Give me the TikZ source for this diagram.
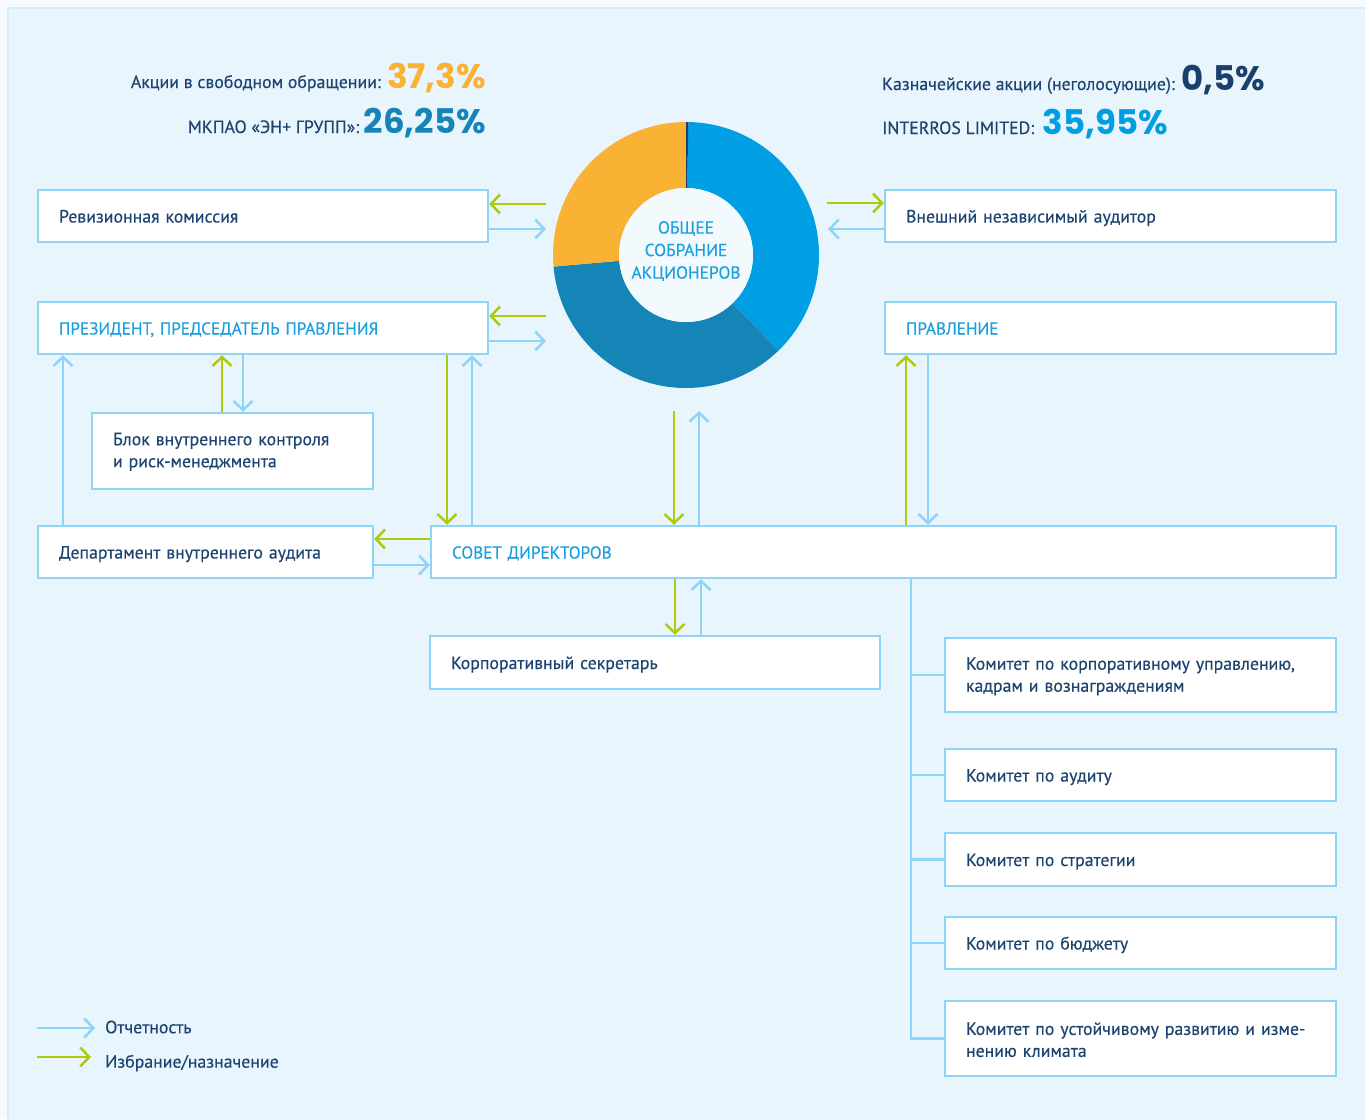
\documentclass[tikz,border=0pt]{standalone}
\usepackage{fontspec}
\setmainfont{PT Sans}
\newfontfamily\medfont{PT Sans}[FakeBold=0.3]
\newfontfamily\numfont{Poppins}
\usetikzlibrary{arrows.meta,calc}
\definecolor{bgout}{HTML}{F4FAFE}
\definecolor{panel}{HTML}{E8F5FD}
\definecolor{panelline}{HTML}{D4EDFB}
\definecolor{boxblue}{HTML}{8DD4F6}
\definecolor{selgreen}{HTML}{AFCA0B}
\definecolor{navytext}{HTML}{1D4470}
\definecolor{capblue}{HTML}{1AA0E0}
\definecolor{segorange}{HTML}{F9B234}
\definecolor{segbright}{HTML}{009FE3}
\definecolor{segmid}{HTML}{1585B8}
\definecolor{segnavy}{HTML}{1B3F6B}
\definecolor{innerc}{HTML}{F3FAFE}
\newcommand\bodyfnt{\medfont\fontsize{17.8}{22}\selectfont\hyphenpenalty=10000\exhyphenpenalty=10000}
\newcommand\capfnt{\medfont\fontsize{17.2}{22}\selectfont}
\newcommand\bignum{\numfont\bfseries\fontsize{34}{34}\selectfont}
\begin{document}
\begin{tikzpicture}[x=1pt,y=-1pt,
  box/.style={draw=boxblue, line width=2.5pt, fill=white, rectangle,
    inner xsep=21pt, inner ysep=0pt, align=left, text=navytext, font=\bodyfnt},
  oneline/.style={text height=15pt, text depth=2pt},
  capbox/.style={box, oneline, text=capblue, font=\capfnt},
  tipa/.style={-{Straight Barb[length=9pt,width=19pt]}},
  rep/.style={draw=boxblue, line width=2.5pt, tipa},
  sel/.style={draw=selgreen, line width=2.5pt, tipa},
  tree/.style={draw=boxblue, line width=2.5pt},
  head/.style={inner sep=0pt, text=navytext, font=\bodyfnt},
  legtext/.style={inner ysep=0pt, text=navytext, font=\bodyfnt, anchor=west}]
\useasboundingbox (0,0) rectangle (1365,1119);
\fill[bgout] (0,0) rectangle (1365,1119);
\draw[panelline, fill=panel, line width=2pt] (8,8) rectangle (1375,1130);

% header figures
\node[head, anchor=base east] (free) at (486,88)
  {Акции в свободном обращении: {\bignum\color{segorange}37,3\%}};
\node[head, anchor=base east] (enplus) at (486,133)
  {МКПАО «ЭН+ ГРУПП»: {\bignum\color{segmid}26,25\%}};
\node[head, anchor=base west] (treas) at (882,90)
  {Казначейские акции (неголосующие): {\bignum\color{segnavy}0,5\%}};
\node[head, anchor=base west] (interros) at (882,134)
  {INTERROS LIMITED:\hspace{4pt} {\bignum\color{segbright}35,95\%}};

% donut
\coordinate (gmc) at (686,255);
\begin{scope}[shift={(gmc)}, x=1pt, y=1pt]
  \fill[segbright] (89:133) arc[start angle=89, end angle=-46, radius=133] -- (-46:67) arc[start angle=-46, end angle=89, radius=67] -- cycle;
  \fill[segmid] (-46:133) arc[start angle=-46, end angle=-175, radius=133] -- (-175:67) arc[start angle=-175, end angle=-46, radius=67] -- cycle;
  \fill[segorange] (185:133) arc[start angle=185, end angle=90, radius=133] -- (90:67) arc[start angle=90, end angle=185, radius=67] -- cycle;
  \fill[segnavy] (90:133) arc[start angle=90, end angle=89, radius=133] -- (89:67) arc[start angle=89, end angle=90, radius=67] -- cycle;
\end{scope}
\node[circle, fill=innerc, minimum size=134pt, inner sep=0pt] (gm) at (gmc) {};
\node[align=center, text=capblue, font=\medfont\fontsize{17.4}{22.5}\selectfont] (gmlabel) at (686,251)
  {ОБЩЕЕ\\СОБРАНИЕ\\АКЦИОНЕРОВ};

% boxes
\node[box, oneline, minimum width=450pt, minimum height=52pt, text width=408pt] (rev) at (263,216) {Ревизионная комиссия};
\node[box, oneline, minimum width=451pt, minimum height=52pt, text width=409pt] (ext) at (1110.5,216) {Внешний независимый аудитор};
\node[capbox, minimum width=450pt, minimum height=52pt, text width=408pt] (pres) at (263,328) {ПРЕЗИДЕНТ, ПРЕДСЕДАТЕЛЬ ПРАВЛЕНИЯ};
\node[capbox, minimum width=451pt, minimum height=52pt, text width=409pt] (prav) at (1110.5,328) {ПРАВЛЕНИЕ};
\node[box, minimum width=281pt, minimum height=76pt, text width=239pt] (blok) at (232.5,451) {\rule{0pt}{14pt}Блок внутреннего контроля\\и риск-менеджмента};
\node[box, oneline, minimum width=335pt, minimum height=52pt, text width=293pt] (dep) at (205.5,552) {Департамент внутреннего аудита};
\node[capbox, minimum width=905pt, minimum height=52pt, text width=863pt] (sovet) at (883.5,552) {СОВЕТ ДИРЕКТОРОВ};
\node[box, oneline, minimum width=450pt, minimum height=53pt, text width=408pt] (sekr) at (655,662.5) {Корпоративный секретарь};
\node[box, minimum width=391pt, minimum height=74pt, text width=349pt] (k1) at (1140.5,675) {\rule{0pt}{15pt}Комитет по корпоративному управлению,\\кадрам и вознаграждениям};
\node[box, oneline, minimum width=391pt, minimum height=52pt, text width=349pt] (k2) at (1140.5,775) {Комитет по аудиту};
\node[box, oneline, minimum width=391pt, minimum height=53pt, text width=349pt] (k3) at (1140.5,859.5) {Комитет по стратегии};
\node[box, oneline, minimum width=391pt, minimum height=52pt, text width=349pt] (k4) at (1140.5,943) {Комитет по бюджету};
\node[box, minimum width=391pt, minimum height=75pt, text width=349pt] (k5) at (1140.5,1038.5) {\rule{0pt}{15pt}Комитет по устойчивому развитию и изме-\\нению климата};

% free ends near the donut
\coordinate (gL1) at (546,204);
\coordinate (gL2) at (546,229);
\coordinate (gL3) at (546,316);
\coordinate (gL4) at (546,341);
\coordinate (gR1) at (827,203);
\coordinate (gR2) at (828,229);
\coordinate (gB1) at (674,411);
\coordinate (gB2) at (699,411);
% x positions of vertical connectors
\coordinate (x63) at (63,0);
\coordinate (x222) at (222,0);
\coordinate (x243) at (243,0);
\coordinate (x447) at (447,0);
\coordinate (x472) at (472,0);
\coordinate (x675) at (675,0);
\coordinate (x701) at (701,0);
\coordinate (x906) at (906,0);
\coordinate (x928) at (928,0);
\coordinate (xtree) at (911,0);
\coordinate (y539) at (0,539);
\coordinate (y565) at (0,565);

% connectors
\draw[sel] (gL1) -- (gL1 -| rev.east);
\draw[rep] (gL2 -| rev.east) -- (gL2);
\draw[sel] (gR1) -- (gR1 -| ext.west);
\draw[rep] (gR2 -| ext.west) -- (gR2);
\draw[sel] (gL3) -- (gL3 -| pres.east);
\draw[rep] (gL4 -| pres.east) -- (gL4);
\draw[sel] (x222 |- blok.north) -- (x222 |- pres.south);
\draw[rep] (x243 |- pres.south) -- (x243 |- blok.north);
\draw[rep] (x63 |- dep.north) -- (x63 |- pres.south);
\draw[sel] (x447 |- pres.south) -- (x447 |- sovet.north);
\draw[rep] (x472 |- sovet.north) -- (x472 |- pres.south);
\draw[sel] (sovet.west |- y539) -- (dep.east |- y539);
\draw[rep] (dep.east |- y565) -- (sovet.west |- y565);
\draw[sel] (gB1) -- (gB1 |- sovet.north);
\draw[rep] (gB2 |- sovet.north) -- (gB2);
\draw[sel] (x906 |- sovet.north) -- (x906 |- prav.south);
\draw[rep] (x928 |- prav.south) -- (x928 |- sovet.north);
\draw[sel] (x675 |- sovet.south) -- (x675 |- sekr.north);
\draw[rep] (x701 |- sekr.north) -- (x701 |- sovet.south);

% committee tree
\draw[tree] (xtree |- sovet.south) |- (k5.west);
\foreach \k in {k1,k2,k3,k4} \draw[tree] (xtree |- \k.west) -- (\k.west);

% legend
\node[legtext, inner xsep=10pt] (legrep) at (95,1027) {Отчетность};
\node[legtext, inner xsep=14pt] (legsel) at (91,1063) {Избрание/назначение};
\coordinate (lg1) at (37,1028);
\coordinate (lg2) at (37,1057);
\draw[rep] (lg1) -- (lg1 -| legrep.west);
\draw[sel] (lg2) -- (lg2 -| legsel.west);
\end{tikzpicture}
\end{document}
